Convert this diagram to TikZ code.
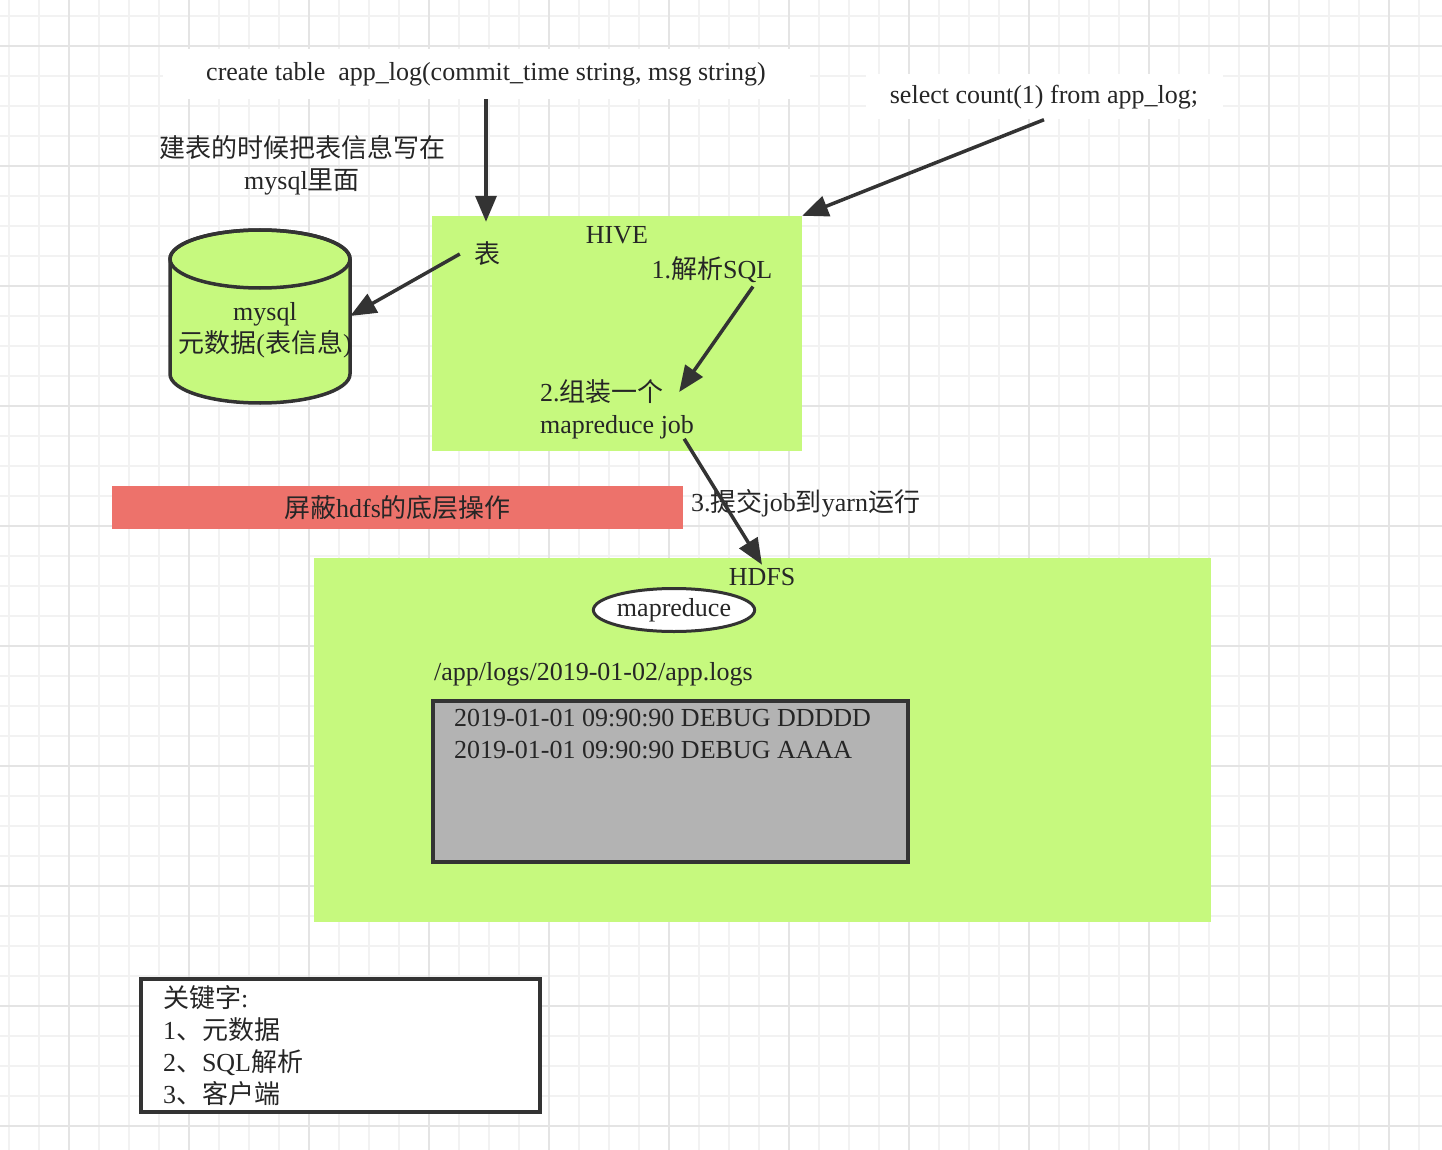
\documentclass[tikz,border=0pt]{standalone}
\usepackage{fontspec}
\setmainfont{Liberation Serif}
\newfontfamily\cjk{Noto Sans CJK SC}
\usetikzlibrary{arrows.meta,shapes.geometric}
\definecolor{hivegreen}{RGB}{198,249,126}
\definecolor{maskred}{RGB}{237,114,107}
\definecolor{loggray}{RGB}{179,179,179}
\definecolor{inkgray}{RGB}{51,51,51}
\definecolor{txtgray}{RGB}{38,38,38}
\definecolor{gridminor}{RGB}{242,242,242}
\definecolor{gridmajor}{RGB}{228,228,228}
\newcommand\zh[1]{{\cjk #1}}

\begin{document}
\begin{tikzpicture}[
	x = 1pt, y = -1pt,
	every node/.style = {font = \fontsize{26}{32}\selectfont, text = txtgray},
	flow/.style = {-{Triangle[length=26pt,width=21pt]}, line width=3.5pt, draw=inkgray},
	zone/.style = {rectangle, fill=hivegreen, inner sep=0pt},
	whitebg/.style = {rectangle, fill=white, inner sep=0pt},
	boxed/.style = {rectangle, draw=inkgray, line width=3.5pt}
	]

	\fill[white] (0,0) rectangle (1442,1150);
	\useasboundingbox (0,0) rectangle (1442,1150);
	\foreach \gx in {9,39,...,1439} \draw[gridminor, line width=1.5pt] (\gx,0) -- (\gx,1150);
	\foreach \gy in {16,46,...,1146} \draw[gridminor, line width=1.5pt] (0,\gy) -- (1442,\gy);
	\foreach \gx in {69,189,...,1389} \draw[gridmajor, line width=1.5pt] (\gx,0) -- (\gx,1150);
	\foreach \gy in {46,166,...,1126} \draw[gridmajor, line width=1.5pt] (0,\gy) -- (1442,\gy);

	\node[whitebg, minimum width=647pt, minimum height=50pt] (createtxt) at (486,74) {create table\ \ app\_log(commit\_time string, msg string)};
	\node[whitebg, minimum width=357pt, minimum height=45pt] (selecttxt) at (1044,97) {select count(1) from app\_log;};
	\node[align=center] (note) at (302,165) {\zh{建表的时候把表信息写在}\\mysql\zh{里面}};

	\draw[fill=hivegreen, draw=inkgray, line width=3.5pt] (170,259) -- (170,374) arc[start angle=180, end angle=360, x radius=90pt, y radius=29pt] -- (350,259) arc[start angle=0, end angle=180, x radius=90pt, y radius=29pt] -- cycle;
	\draw[draw=inkgray, line width=3.5pt] (260,259) ellipse[x radius=90pt, y radius=29pt];
	\node[minimum width=180pt, minimum height=174pt, inner sep=0pt] (db) at (260,316) {};
	\node[align=center] (dbtxt) at (265,330) {mysql\\\zh{元数据}(\zh{表信息})};

	\node[zone, minimum width=370pt, minimum height=235pt] (hive) at (617,333.5) {};
	\node (hivetitle) at (617,235) {HIVE};
	\node[inner xsep=14pt] (tbl) at (487,254) {\zh{表}};
	\node (parse) at (712,270) {1.\zh{解析}SQL};
	\node[align=left, anchor=north west, inner sep=0pt] (build) at (540,379) {2.\zh{组装一个}\\mapreduce job};

	\node[rectangle, fill=maskred, minimum width=571pt, minimum height=43pt] (mask) at (397.5,507.5) {\zh{屏蔽}hdfs\zh{的底层操作}};
	\node[anchor=west, inner sep=0pt] (submit) at (691,503) {3.\zh{提交}job\zh{到}yarn\zh{运行}};

	\node[zone, minimum width=897pt, minimum height=364pt] (hdfs) at (762.5,740) {};
	\node (hdfstitle) at (762,577) {HDFS};
	\node[ellipse, draw=inkgray, line width=3pt, fill=white, minimum width=159pt, minimum height=43pt, inner sep=0pt] (mr) at (674,610) {mapreduce};
	\node[anchor=west, inner sep=0pt] (logpath) at (434,674) {/app/logs/2019-01-02/app.logs};
	\node[boxed, fill=loggray, minimum width=475pt, minimum height=161pt] (logbox) at (670.5,781.5) {};
	\node[anchor=north west, align=left, inner sep=0pt] (loglines) at (454,709) {2019-01-01 09:90:90 DEBUG DDDDD\\2019-01-01 09:90:90 DEBUG AAAA};

	\node[boxed, fill=white, minimum width=399pt, minimum height=133pt, text width=355pt, inner xsep=22pt, align=left] (keys) at (340.5,1045.5) {\zh{关键字}:\\1\zh{、元数据}\\2\zh{、}SQL\zh{解析}\\3\zh{、客户端}};

	\draw[flow] (createtxt.south) -- ([yshift=-6pt]createtxt.south |- hive.north);
	\draw[flow] (selecttxt.south) -- (hive.north east);
	\draw[flow] (tbl.west) -- (db.east);
	\draw[flow] ([xshift=41pt]parse.south) -- ([shift={(-15pt,-13pt)}]build.north east);
	\draw[flow] ([xshift=-10pt]build.south east) -- (hdfstitle.north);

\end{tikzpicture}
\end{document}
